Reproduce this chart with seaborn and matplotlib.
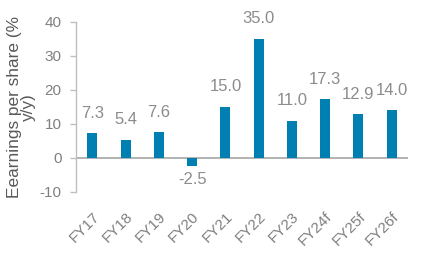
import matplotlib
matplotlib.use("Agg")
import matplotlib.pyplot as plt
import seaborn as sns
import pandas as pd

categories = ["FY17", "FY18", "FY19", "FY20", "FY21", "FY22", "FY23", "FY24f", "FY25f", "FY26f"]
values = [7.3, 5.4, 7.6, -2.5, 15.0, 35.0, 11.0, 17.3, 12.9, 14.0]
yticks = [-10, 0, 10, 20, 30, 40]
ylabel = "Eearnings per share (%\ny/y)"

sns.set_style("white")
plt.rcParams['font.family'] = ['Liberation Sans', 'DejaVu Sans']

df = pd.DataFrame({"cat": categories, "val": values})

fig = plt.figure(figsize=(4.31, 2.58), dpi=100)
ax = fig.add_axes([0.176, 0.256, 0.771, 0.659])

bar_color = "#0080B2"
sns.barplot(data=df, x="cat", y="val", color=bar_color, width=0.3, ax=ax,
            saturation=1, edgecolor="none")

ax.set_xlim(-0.5, len(categories) - 0.5)
ax.set_ylim(-10, 40)
ax.set_yticks(yticks)
ax.set_yticklabels([str(t) for t in yticks])

ax.axhline(0, color="#A6A6A6", lw=1.2, zorder=0.5)

for s in ["top", "right", "bottom"]:
    ax.spines[s].set_visible(False)
ax.spines["left"].set_color("#BFBFBF")
ax.spines["left"].set_linewidth(1.0)

ax.tick_params(axis="y", left=True, length=4.3, width=1, color="#BFBFBF",
               labelsize=11, labelcolor="#808080", pad=6)
ax.tick_params(axis="x", bottom=False, labelsize=11, labelcolor="#808080", pad=9)
for lab in ax.get_xticklabels():
    lab.set_rotation(45)
    lab.set_ha("right")
    lab.set_rotation_mode("anchor")

ax.set_xlabel("")
ax.set_ylabel(ylabel, fontsize=12.4, color="#595959", linespacing=0.95)
ax.yaxis.set_label_coords(-0.12, 0.5)

for i, v in enumerate(values):
    if v >= 0:
        ax.annotate(f"{v:.1f}", (i, v), xytext=(0, 9), textcoords="offset points",
                    ha="center", va="bottom", fontsize=12, color="#8C8C8C")
    else:
        ax.annotate(f"{v:.1f}", (i, v), xytext=(0, -4), textcoords="offset points",
                    ha="center", va="top", fontsize=12, color="#8C8C8C")

fig.savefig("out.png", dpi=100)
